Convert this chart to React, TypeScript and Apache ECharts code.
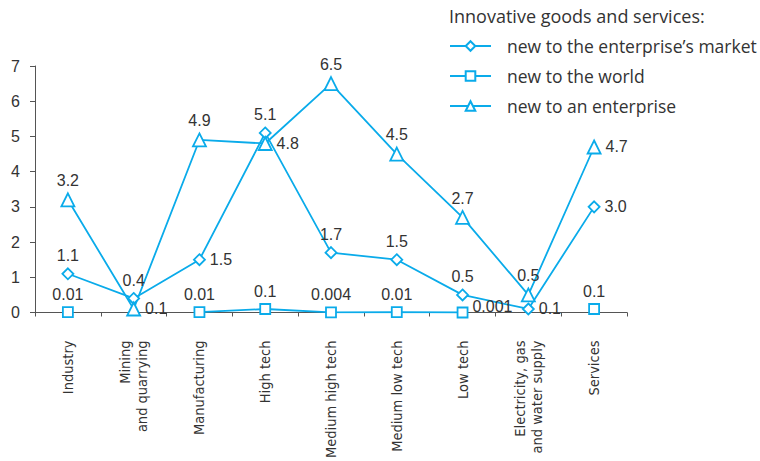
import React, { useEffect, useRef } from "react";
import * as echarts from "echarts";

const categories = [
  "Industry",
  "Mining\nand quarrying",
  "Manufacturing",
  "High tech",
  "Medium high tech",
  "Medium low tech",
  "Low tech",
  "Electricity, gas\nand water supply",
  "Services",
];

const seriesNames = [
  "new to the enterprise\u2019s market",
  "new to the world",
  "new to an enterprise",
];

const marketValues = [1.1, 0.4, 1.5, 5.1, 1.7, 1.5, 0.5, 0.1, 3.0];
const worldValues: (number | null)[] = [0.01, null, 0.01, 0.1, 0.004, 0.01, 0.001, null, 0.1];
const enterpriseValues = [3.2, 0.1, 4.9, 4.8, 6.5, 4.5, 2.7, 0.5, 4.7];

const marketLabelPos = ["top", "top", "right", "top", "top", "top", "top", "right", "right"];
const worldLabelPos = ["top", "top", "top", "top", "top", "top", "right", "top", "top"];
const enterpriseLabelPos = ["top", "right", "top", "right", "top", "top", "top", "top", "right"];

const yTicks = { min: 0, max: 7, interval: 1 };

const COLOR = "#0aabea";
const TEXT = "#333333";
const NUM_FONT = "'Liberation Sans', Arial, sans-serif";
const LEGEND_FONT = "'Open Sans', sans-serif";

function fmt(v: number) {
  return v >= 1 ? v.toFixed(1) : String(v);
}

function buildData(values: (number | null)[], pos: string[]) {
  return values.map((v, i) => {
    if (v === null) return null;
    const label: any = { position: pos[i] };
    if (values === worldValues && pos[i] === "right") label.offset = [0, -6];
    return { value: v, label };
  });
}

export default function App() {
  const ref = useRef<HTMLDivElement>(null);
  useEffect(() => {
    document.body.style.margin = "0";
    document.body.style.overflow = "hidden";
    if (!ref.current) return;
    const chart = echarts.init(ref.current, undefined, { renderer: "svg" });
    const mkSeries = (name: string, values: (number | null)[], pos: string[], symbol: string, size: number) => ({
      name,
      type: "line",
      data: buildData(values, pos),
      symbol,
      symbolSize: size,
      showAllSymbol: true,
      connectNulls: false,
      lineStyle: { color: COLOR, width: 1.8 },
      itemStyle: { color: "#ffffff", borderColor: COLOR, borderWidth: 1.8 },
      label: {
        show: true,
        color: TEXT,
        fontFamily: NUM_FONT,
        fontSize: 16,
        distance: 4,
        formatter: (p: any) => fmt(p.value),
      },
      emphasis: { disabled: true },
      z: 3,
    });
    chart.setOption({
      animation: false,
      backgroundColor: "#ffffff",
      title: {
        text: "Innovative goods and services:",
        left: 444,
        top: 2,
        textStyle: { color: TEXT, fontSize: 18, fontWeight: "normal", fontFamily: LEGEND_FONT },
      },
      legend: {
        orient: "vertical",
        left: 444,
        top: 32,
        itemWidth: 41,
        itemHeight: 12,
        itemGap: 12,
        data: seriesNames,
        textStyle: {
          color: TEXT,
          fontSize: 17.5,
          fontFamily: LEGEND_FONT,
          padding: [0, 0, 0, 11],
        },
      },
      grid: { left: 35, right: 133, top: 66, bottom: 146, containLabel: false },
      xAxis: {
        type: "category",
        data: categories,
        boundaryGap: true,
        axisLine: { lineStyle: { color: "#555", width: 1 } },
        axisTick: { show: true, length: 4, lineStyle: { color: "#555" } },
        axisLabel: {
          rotate: 90,
          interval: 0,
          margin: 28,
          color: TEXT,
          fontSize: 14.5,
          fontFamily: "'DejaVu Sans Condensed', 'DejaVu Sans', sans-serif",
          lineHeight: 17,
        },
      },
      yAxis: {
        type: "value",
        min: yTicks.min,
        max: yTicks.max,
        interval: yTicks.interval,
        axisLine: { show: true, lineStyle: { color: "#555", width: 1 } },
        axisTick: { show: true, length: 5, lineStyle: { color: "#555" } },
        splitLine: { show: false },
        axisLabel: { color: TEXT, fontSize: 16, fontFamily: NUM_FONT, margin: 15 },
      },
      series: [
        mkSeries(seriesNames[0], marketValues, marketLabelPos, "diamond", 11),
        mkSeries(seriesNames[1], worldValues, worldLabelPos, "rect", 10),
        mkSeries(seriesNames[2], enterpriseValues, enterpriseLabelPos, "triangle", 13),
      ],
    });
    return () => chart.dispose();
  }, []);
  return <div ref={ref} style={{ width: 760, height: 461 }} />;
}
